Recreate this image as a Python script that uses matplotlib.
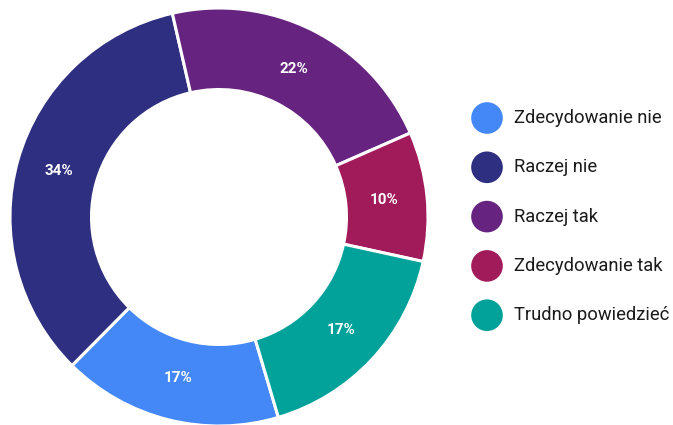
import matplotlib
matplotlib.use("Agg")
import matplotlib.pyplot as plt

# answer categories, shares (%) and slice colours, in legend order
labels = ["Zdecydowanie nie", "Raczej nie", "Raczej tak", "Zdecydowanie tak", "Trudno powiedzieć"]
shares = [17, 34, 22, 10, 17]
colors = ["#4488F8", "#2E2F80", "#662480", "#A11A5A", "#02A19A"]

plt.rcParams["font.family"] = ["Roboto", "DejaVu Sans"]

W, H = 673, 425
fig = plt.figure(figsize=(W / 100, H / 100), dpi=100)

# donut: centre ~(219, 217) px, outer radius ~209 px
ax = fig.add_axes([10 / W, (H - 426) / H, 418 / W, 418 / H])
wedges, texts, autotexts = ax.pie(
    shares,
    colors=colors,
    startangle=-73.5,
    counterclock=False,
    radius=1.0,
    autopct="%d%%",
    pctdistance=0.795,
    wedgeprops=dict(width=0.39, edgecolor="white", linewidth=2.2),
    textprops=dict(color="white", fontsize=11, fontweight="bold"),
)
ax.set_xlim(-1, 1)
ax.set_ylim(-1, 1)
ax.set_aspect("equal")
ax.axis("off")

# legend drawn by hand on its own axes
lax = fig.add_axes([0, 0, 1, 1])
lax.set_xlim(0, W)
lax.set_ylim(H, 0)
lax.axis("off")
for i, (lab, col) in enumerate(zip(labels, colors)):
    y = 118 + i * 49.3
    lax.scatter([487], [y], s=31 ** 2 * 0.54, color=col, edgecolors="none")
    lax.text(514, y, lab, fontsize=13.2, va="center", ha="left", color="#1a1a1a")

fig.savefig("out.png", dpi=100)
